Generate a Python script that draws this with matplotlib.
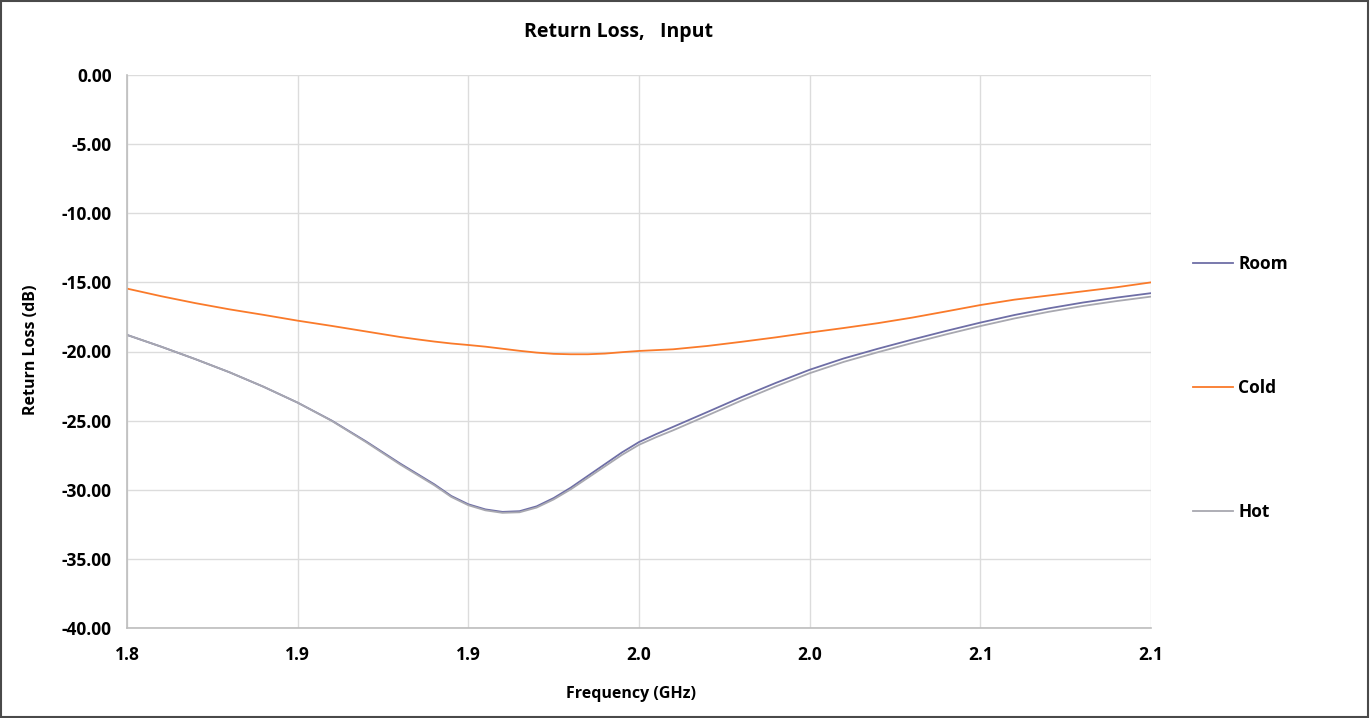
import matplotlib as mpl
mpl.use('Agg')
import matplotlib.pyplot as plt
import matplotlib.patches as patches

#
#--- measured return loss (dB) vs frequency (GHz); finer steps around the dip
#
freq = [1.80, 1.81, 1.82, 1.83, 1.84, 1.85, 1.86, 1.87, 1.875, 1.88, 1.885, 1.89, 1.895,
        1.90, 1.905, 1.91, 1.915, 1.92, 1.925, 1.93, 1.935, 1.94, 1.945, 1.95, 1.955,
        1.96, 1.97, 1.98, 1.99, 2.00, 2.01, 2.02, 2.03, 2.04, 2.05, 2.06, 2.07, 2.08,
        2.09, 2.10]

room = [-18.80, -19.65, -20.55, -21.50, -22.55, -23.70, -25.00, -26.50, -27.30, -28.10,
        -28.85, -29.60, -30.45, -31.05, -31.42, -31.60, -31.55, -31.20, -30.60, -29.85,
        -29.00, -28.15, -27.30, -26.55, -25.98, -25.45, -24.38, -23.30, -22.28, -21.32,
        -20.50, -19.80, -19.14, -18.51, -17.91, -17.36, -16.88, -16.46, -16.10, -15.78]

cold = [-15.45, -16.00, -16.50, -16.95, -17.35, -17.77, -18.15, -18.55, -18.75, -18.95,
        -19.12, -19.28, -19.42, -19.53, -19.65, -19.80, -19.95, -20.08, -20.17, -20.20,
        -20.20, -20.15, -20.05, -19.96, -19.90, -19.84, -19.60, -19.30, -18.98, -18.63,
        -18.30, -17.95, -17.55, -17.10, -16.64, -16.25, -15.95, -15.65, -15.35, -15.00]

hot  = [-18.80, -19.65, -20.55, -21.50, -22.55, -23.70, -25.02, -26.55, -27.36, -28.17,
        -28.92, -29.67, -30.52, -31.12, -31.49, -31.67, -31.63, -31.29, -30.70, -29.97,
        -29.14, -28.31, -27.48, -26.75, -26.20, -25.70, -24.63, -23.55, -22.53, -21.57,
        -20.75, -20.05, -19.39, -18.76, -18.16, -17.61, -17.13, -16.71, -16.35, -16.03]

x_ticks  = [1.80, 1.85, 1.90, 1.95, 2.00, 2.05, 2.10]
x_labels = ['1.8', '1.9', '1.9', '2.0', '2.0', '2.1', '2.1']
y_ticks  = [0, -5, -10, -15, -20, -25, -30, -35, -40]

#
#--- set up the plotting area
#
plt.close('all')
mpl.rcParams['font.family'] = ['Open Sans', 'DejaVu Sans']
mpl.rcParams['font.weight'] = 'bold'

fig = plt.figure(figsize=(13.71, 7.18), dpi=100)
ax  = fig.add_axes([127/1371, 1 - 628/718, 1024/1371, 553/718])

ax.plot(freq, room, color='#6E6EA6', linewidth=1.3, label='Room')
ax.plot(freq, cold, color='#FA7A2A', linewidth=1.3, label='Cold')
ax.plot(freq, hot,  color='#A8A8B0', linewidth=1.3, label='Hot')

ax.set_xlim(1.80, 2.10)
ax.set_ylim(-40, 0)
ax.set_xticks(x_ticks)
ax.set_xticklabels(x_labels)
ax.set_yticks(y_ticks)
ax.set_yticklabels(['%.2f' % v for v in y_ticks])
ax.tick_params(length=0, labelsize=12.5)
ax.tick_params(axis='y', pad=11)
ax.tick_params(axis='x', pad=13)

ax.grid(True, color='#DCDCDC', linewidth=1.0)
ax.set_axisbelow(True)
for side in ['top', 'right']:
    ax.spines[side].set_visible(False)
for side in ['left', 'bottom']:
    ax.spines[side].set_color('#BDBDBD')
    ax.spines[side].set_linewidth(1.2)

#
#--- titles and axis names
#
fig.text(619/1371, 1 - 32/718, 'Return Loss,   Input', ha='center', va='center',
         fontsize=14, fontweight='bold')
fig.text(631/1371, 1 - 694/718, 'Frequency (GHz)', ha='center', va='center',
         fontsize=11.5, fontweight='bold')
fig.text(31/1371, 1 - 350/718, 'Return Loss (dB)', ha='center', va='center',
         rotation=90, fontsize=11.5, fontweight='bold')

#
#--- legend on the right side, widely spaced
#
fig.legend(loc='center left', bbox_to_anchor=(1193/1371, 1 - 388/718),
           frameon=False, fontsize=12.5, labelspacing=6.12, handlelength=2.3,
           handletextpad=0.3, borderpad=0, borderaxespad=0)

#
#--- outer frame
#
fig.patches.append(patches.Rectangle((0.001, 0.002), 0.997, 0.996, transform=fig.transFigure,
                                     fill=False, edgecolor='#4A4A4A', linewidth=1.5))

plt.savefig('out.png', format='png', dpi=100)
plt.close('all')
